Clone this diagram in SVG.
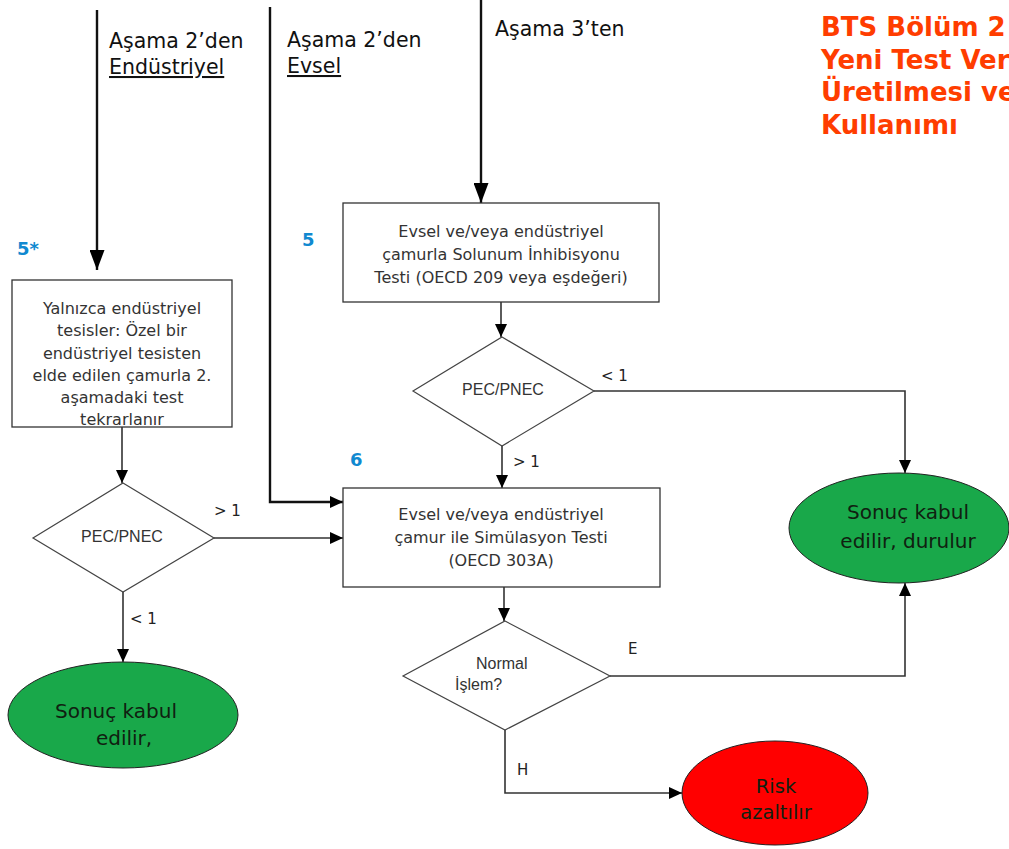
<svg xmlns="http://www.w3.org/2000/svg" width="1009" height="849" viewBox="0 0 1009 849">
  <style>
    .box { fill: #fff; stroke: #333; stroke-width: 1.3; }
    .dia { fill: #fff; stroke: #444; stroke-width: 1.2; }
    .ell { stroke: #222; stroke-width: 1; }
    .t { font-family: "DejaVu Sans", Verdana, sans-serif; fill: #333; font-size: 16px; text-anchor: middle; }
    .d { font-family: "Liberation Sans", Arial, sans-serif; fill: #333; font-size: 16px; text-anchor: middle; }
    .lab { font-family: "DejaVu Sans", Verdana, sans-serif; fill: #222; font-size: 15px; }
    .src { font-family: "DejaVu Sans", Verdana, sans-serif; fill: #111; font-size: 20.5px; }
    .e { font-family: "DejaVu Sans", Verdana, sans-serif; fill: #102010; font-size: 20px; text-anchor: middle; }
    .num { font-family: "DejaVu Sans", Verdana, sans-serif; fill: #1089d0; font-size: 18px; font-weight: bold; }
    .title { font-family: "DejaVu Sans", Verdana, sans-serif; fill: #ff3d00; font-size: 26px; font-weight: bold; }
    .thick { fill: none; stroke: #111; stroke-width: 2.4; }
    .thin { fill: none; stroke: #333; stroke-width: 1.6; }
  </style>
  <defs>
    <marker id="big" viewBox="0 0 20 15" refX="20" refY="7.5" markerWidth="20" markerHeight="15" orient="auto" markerUnits="userSpaceOnUse">
      <path d="M0,0 L20,7.5 L0,15 z" fill="#000"/>
    </marker>
    <marker id="small" viewBox="0 0 13 12" refX="13" refY="6" markerWidth="13" markerHeight="12" orient="auto" markerUnits="userSpaceOnUse">
      <path d="M0,0 L13,6 L0,12 z" fill="#000"/>
    </marker>
  </defs>

  <!-- heading (runs past the right edge) -->
  <g id="title">
    <text class="title" x="821" y="36">BTS Bölüm 2</text>
    <text class="title" x="821" y="69">Yeni Test Verilerinin</text>
    <text class="title" x="821" y="101">Üretilmesi ve</text>
    <text class="title" x="821" y="134">Kullanımı</text>
  </g>

  <!-- incoming sources -->
  <g id="src-industrial">
    <text class="src" x="109" y="48">Aşama 2’den</text>
    <text class="src" x="109" y="74" text-decoration="underline">Endüstriyel</text>
  </g>
  <g id="src-domestic">
    <text class="src" x="287" y="47">Aşama 2’den</text>
    <text class="src" x="287" y="73" text-decoration="underline">Evsel</text>
  </g>
  <g id="src-stage3">
    <text class="src" x="495" y="36">Aşama 3’ten</text>
  </g>

  <!-- connectors -->
  <g id="connectors">
    <path class="thick" d="M97,10 V270" marker-end="url(#big)"/>
    <path class="thick" d="M270,7 V502 H343" marker-end="url(#small)"/>
    <path class="thick" d="M481,0 V203" marker-end="url(#big)"/>
    <path class="thin" d="M501,302 V337" marker-end="url(#small)"/>
    <path class="thin" d="M594,391 H905 V473" marker-end="url(#small)"/>
    <path class="thin" d="M502,446 V488" marker-end="url(#small)"/>
    <path class="thin" d="M122,427 V483" marker-end="url(#small)"/>
    <path class="thin" d="M214,538 H343" marker-end="url(#small)"/>
    <path class="thin" d="M123,592 V662" marker-end="url(#small)"/>
    <path class="thin" d="M504,587 V621" marker-end="url(#small)"/>
    <path class="thin" d="M610,676 H905 V583" marker-end="url(#small)"/>
    <path class="thin" d="M505,730 V793 H682" marker-end="url(#small)"/>
  </g>

  <!-- edge labels -->
  <g id="edge-labels">
    <text class="lab" x="601" y="381">&lt; 1</text>
    <text class="lab" x="513" y="467">&gt; 1</text>
    <text class="lab" x="214" y="516">&gt; 1</text>
    <text class="lab" x="130" y="624">&lt; 1</text>
    <text class="lab" x="628" y="654">E</text>
    <text class="lab" x="517" y="775">H</text>
  </g>

  <!-- step numbers -->
  <g id="step-numbers">
    <text class="num" x="17" y="255">5*</text>
    <text class="num" x="302" y="246">5</text>
    <text class="num" x="350" y="466">6</text>
  </g>

  <g id="industrial-test">
    <rect class="box" x="12" y="280" width="220" height="147"/>
    <text class="t" x="122" y="314">Yalnızca endüstriyel</text>
    <text class="t" x="122" y="336">tesisler: Özel bir</text>
    <text class="t" x="122" y="359">endüstriyel tesisten</text>
    <text class="t" x="122" y="381">elde edilen çamurla 2.</text>
    <text class="t" x="122" y="403">aşamadaki test</text>
    <text class="t" x="122" y="425">tekrarlanır</text>
  </g>

  <g id="respiration-test">
    <rect class="box" x="343" y="203" width="316" height="99"/>
    <text class="t" x="501" y="237">Evsel ve/veya endüstriyel</text>
    <text class="t" x="501" y="260">çamurla Solunum İnhibisyonu</text>
    <text class="t" x="501" y="283">Testi (OECD 209 veya eşdeğeri)</text>
  </g>

  <g id="pec-right">
    <polygon class="dia" points="502,337 594,391 502,446 413,391"/>
    <text class="d" x="503" y="395">PEC/PNEC</text>
  </g>

  <g id="pec-left">
    <polygon class="dia" points="123,483 214,538 123,592 33,538"/>
    <text class="d" x="122" y="542">PEC/PNEC</text>
  </g>

  <g id="simulation-test">
    <rect class="box" x="343" y="488" width="317" height="99"/>
    <text class="t" x="501" y="520">Evsel ve/veya endüstriyel</text>
    <text class="t" x="501" y="543">çamur ile Simülasyon Testi</text>
    <text class="t" x="501" y="566">(OECD 303A)</text>
  </g>

  <g id="normal-operation">
    <polygon class="dia" points="505,621 610,676 505,730 403,676"/>
    <text class="d" x="476" y="669" style="text-anchor:start">Normal</text>
    <text class="d" x="455" y="690" style="text-anchor:start">İşlem?</text>
  </g>

  <g id="accepted-left">
    <ellipse class="ell" cx="123" cy="715" rx="115" ry="53" fill="#19a84a"/>
    <text class="e" x="116" y="718">Sonuç kabul</text>
    <text class="e" x="124" y="745">edilir,</text>
  </g>

  <g id="accepted-right">
    <ellipse class="ell" cx="899" cy="528" rx="110" ry="55" fill="#19a84a"/>
    <text class="e" x="908" y="519">Sonuç kabul</text>
    <text class="e" x="908" y="548">edilir, durulur</text>
  </g>

  <g id="risk-reduced">
    <ellipse class="ell" cx="775" cy="793" rx="93" ry="52" fill="#ff0000"/>
    <text class="e" x="776" y="793" style="font-size:19.5px">Risk</text>
    <text class="e" x="776" y="819" style="font-size:19.5px">azaltılır</text>
  </g>
</svg>
